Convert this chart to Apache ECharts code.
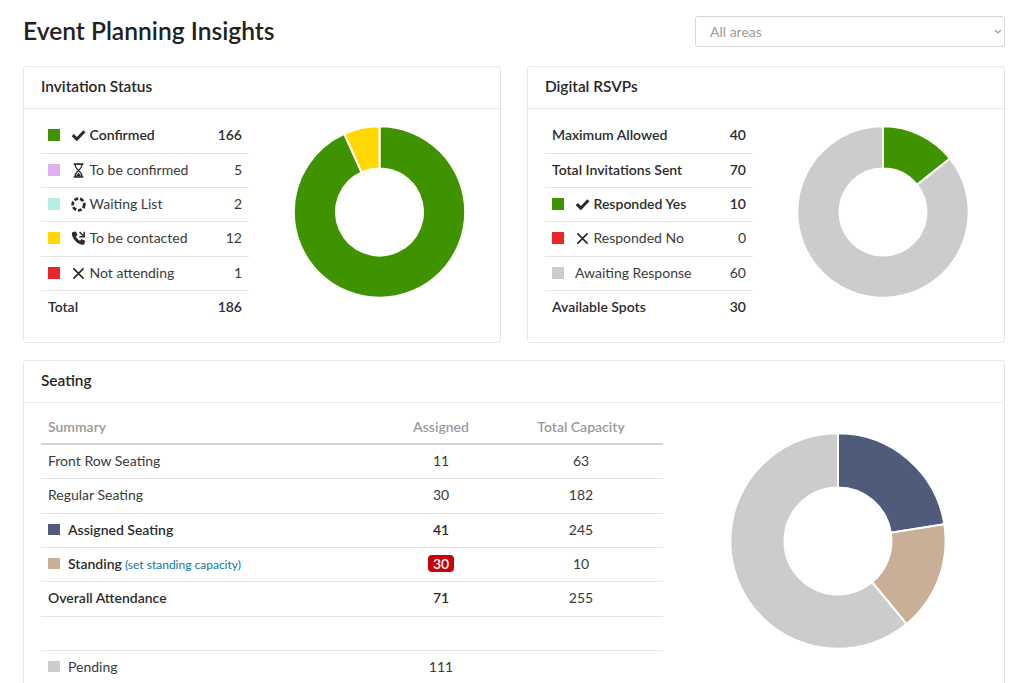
<!DOCTYPE html>
<html lang="en">
<head>
<meta charset="utf-8">
<title>Event Planning Insights</title>
<script src="https://cdn.jsdelivr.net/npm/echarts@6/dist/echarts.min.js"></script>
<style>
  html, body { margin: 0; padding: 0; background: #fff; }
  body { position: relative; width: 1024px; height: 683px; overflow: hidden;
         font-family: Lato, "Open Sans", sans-serif; color: #3a3a3a; font-size: 14px; }
  h1 { position: absolute; left: 23px; top: 15px; margin: 0; font-size: 24.6px; line-height: 32px;
       font-weight: 600; color: #222; white-space: nowrap; }
  .select { position: absolute; left: 695px; top: 16px; width: 308px; height: 29px;
            border: 1.5px solid #d5d7d9; border-radius: 3px; }
  .select span { position: absolute; left: 14px; top: 6px; color: #9a9a9a; font-size: 14px; line-height: 18px; }
  .select svg { position: absolute; right: 2px; top: 12px; }
  .card { position: absolute; box-sizing: border-box; border: 1.5px solid #e6e7e8; border-radius: 3px; background: #fff; }
  .card .head { position: absolute; left: 0; right: 0; top: 0; border-bottom: 1.5px solid #e9eaeb; box-sizing: border-box; }
  .card .head span { position: absolute; left: 17px; font-size: 15.4px; font-weight: 600; color: #262626; line-height: 20px; }
  .rule { position: absolute; height: 1px; background: #e2e3e4; }
  .swatch { position: absolute; width: 11.5px; height: 11.5px; }
  .strong { font-weight: 600; color: #2c2c2c; }
  .text { position: absolute; line-height: 18px; white-space: nowrap; }
  .num { position: absolute; line-height: 18px; text-align: right; }
  .mid { position: absolute; line-height: 18px; text-align: center; width: 80px; }
  .muted { color: #9a9a9a; font-weight: 600; }
  .link { color: #0e76a8; font-size: 12px; font-weight: 400; margin-left: 3px; }
  .badge { display: inline-block; background: #c8000a; color: #fff; font-weight: 600; border-radius: 4px;
           padding: 0 5px; line-height: 17px; font-size: 14px; }
  .icon { position: absolute; }
  #donuts { position: absolute; left: 0; top: 0; width: 1024px; height: 683px; }
</style>
</head>
<body>
<h1>Event Planning Insights</h1>
<div class="select"><span>All areas</span>
  <svg width="8" height="6" viewBox="0 0 8 6"><path d="M1 1l3 3 3-3" fill="none" stroke="#9a9a9a" stroke-width="1.2"/></svg>
</div>

<div class="card" style="left:23px;top:66px;width:478px;height:277px"><div class="head" style="height:42px"><span style="top:9px">Invitation Status</span></div></div>
<div class="card" style="left:527px;top:66px;width:478px;height:277px"><div class="head" style="height:42px"><span style="top:9px">Digital RSVPs</span></div></div>
<div class="card" style="left:23px;top:360px;width:982px;height:340px"><div class="head" style="height:42px"><span style="top:9px">Seating</span></div></div>

<div id="rows"></div>
<div id="donuts"></div>

<script>
// Invitation Status table
const invitationLabels = ['Confirmed', 'To be confirmed', 'Waiting List', 'To be contacted', 'Not attending', 'Total'];
const invitationValues = [166, 5, 2, 12, 1, 186];
const invitationColors = ['#3f9200', '#e0b0f0', '#b5eee5', '#ffd900', '#e8272c', null];
const invitationIcons = ['check', 'hourglass', 'spinner', 'phone', 'cross', null];
const invitationStrong = [true, false, false, false, false, true];

// Digital RSVPs table
const rsvpLabels = ['Maximum Allowed', 'Total Invitations Sent', 'Responded Yes', 'Responded No', 'Awaiting Response', 'Available Spots'];
const rsvpValues = [40, 70, 10, 0, 60, 30];
const rsvpColors = [null, null, '#3f9200', '#e8272c', '#cccccc', null];
const rsvpIcons = [null, null, 'check', 'cross', null, null];
const rsvpStrong = [true, true, true, false, false, true];

// Seating table
const seatingHeaders = ['Summary', 'Assigned', 'Total Capacity'];
const seatingLabels = ['Front Row Seating', 'Regular Seating', 'Assigned Seating', 'Standing', 'Overall Attendance', '', 'Pending'];
const seatingAssigned = [11, 30, 41, 30, 71, null, 111];
const seatingCapacity = [63, 182, 245, 10, 255, null, null];
const seatingColors = [null, null, '#4f5b78', '#c9ae98', null, null, '#cccccc'];
const seatingStrong = [false, false, true, true, true, false, false];

// Slices shown in each donut
const invitationSlices = ['Confirmed', 'To be contacted'];
const rsvpSlices = ['Responded Yes', 'Awaiting Response'];
const seatingSlices = ['Assigned Seating', 'Standing', 'Pending'];

const ICONS = {
  check: '<path d="M.6 7.600l2-2 2.900 2.800L11.500 2l2 2-8 8.400z" fill="#2b2b2b"/>',
  cross: '<path d="M2.300 2.300l9.400 9.400M11.700 2.300l-9.400 9.400" stroke="#2b2b2b" stroke-width="1.600" fill="none"/>',
  hourglass: '<path d="M2.500 1h9M2.500 13h9" stroke="#2b2b2b" stroke-width="1.500" fill="none"/><path d="M3.700 1c0 4 2.300 4.600 3.300 6 1-1.400 3.300-2 3.300-6M3.700 13c0-4 2.300-4.600 3.300-6 1 1.400 3.300 2 3.300 6" stroke="#2b2b2b" stroke-width="1.200" fill="none"/><path d="M4.300 12.500h5.400L7 8.800z" fill="#2b2b2b"/>',
  spinner: '<circle cx="7" cy="7" r="5.400" stroke="#2b2b2b" stroke-width="2.600" stroke-dasharray="3.500 1.740" fill="none"/>',
  phone: '<path d="M1.800.9l2.800-.4 1.500 3.300-1.600 1.400c.7 1.700 2.200 3.200 3.900 3.900l1.400-1.600 3.300 1.500-.5 2.900c-.2.800-1 1.200-1.900 1C5.800 12 1.500 7.600.8 3c-.1-.9.300-1.800 1-2.100z" fill="#2b2b2b"/><path d="M8 1l3.900 3.900M12.300.8v4.500H7.800" stroke="#2b2b2b" stroke-width="1.400" fill="none"/>'
};

const host = document.getElementById('rows');
function add(cls, css, html) {
  const el = document.createElement('div');
  el.className = cls;
  el.style.cssText = css;
  el.innerHTML = html;
  host.appendChild(el);
}
function icon(name, x, cy) {
  add('icon', `left:${x}px;top:${cy - 7.5}px;width:15px;height:15px`,
      `<svg width="15" height="15" viewBox="0 0 14 14">${ICONS[name]}</svg>`);
}
const sideCentres = [135, 170, 204, 238, 273, 307];
const sideRules = [153, 187, 221, 256, 290];

function sideTable(x0, labels, values, colors, icons, strong) {
  sideRules.forEach(y => add('rule', `left:${x0}px;top:${y}px;width:208px`, ''));
  labels.forEach((label, i) => {
    const cy = sideCentres[i];
    const weight = strong[i] ? ' strong' : '';
    if (colors[i]) add('swatch', `left:${x0 + 7}px;top:${cy - 6}px;background:${colors[i]}`, '');
    if (icons[i]) icon(icons[i], x0 + 30, cy);
    let left = x0 + 7;
    if (icons[i]) left = x0 + 48.500;
    else if (colors[i]) left = x0 + 30;
    add('text' + weight, `left:${left}px;top:${cy - 9}px`, label);
    add('num' + weight, `left:${x0 + 141}px;top:${cy - 9}px;width:60px`, values[i]);
  });
}
sideTable(41, invitationLabels, invitationValues, invitationColors, invitationIcons, invitationStrong);
sideTable(545, rsvpLabels, rsvpValues, rsvpColors, rsvpIcons, rsvpStrong);

// Seating table body
const seatCentres = [461, 495, 530, 564, 598, 632, 667];
const seatRules = [478, 513, 547, 581, 616, 650];
add('rule', 'left:41px;top:443px;width:622px;height:1.500px;background:#d4d5d6', '');
seatRules.forEach(y => add('rule', `left:41px;top:${y}px;width:622px;height:1.200px`, ''));
add('text muted', 'left:48px;top:418px', seatingHeaders[0]);
add('mid muted', 'left:401px;top:418px', seatingHeaders[1]);
add('mid muted', 'left:531px;top:418px;width:100px', seatingHeaders[2]);
seatingLabels.forEach((label, i) => {
  const cy = seatCentres[i];
  const weight = seatingStrong[i] ? ' strong' : '';
  if (seatingColors[i]) add('swatch', `left:48px;top:${cy - 6.5}px;background:${seatingColors[i]}`, '');
  const extra = label === 'Standing' ? '<span class="link">(set standing capacity)</span>' : '';
  if (label) add('text' + weight, `left:${seatingColors[i] ? 68 : 48}px;top:${cy - 9}px`, label + extra);
  if (seatingAssigned[i] !== null) {
    const over = seatingCapacity[i] !== null && seatingAssigned[i] > seatingCapacity[i];
    const body = over ? `<span class="badge">${seatingAssigned[i]}</span>` : seatingAssigned[i];
    add('mid' + weight, `left:401px;top:${cy - 9}px`, body);
  }
  if (seatingCapacity[i] !== null) add('mid', `left:541px;top:${cy - 9}px`, seatingCapacity[i]);
});

// Donuts are fed from the same table arrays
function slices(names, labels, values, colors) {
  return names.map(name => {
    const i = labels.indexOf(name);
    return { name, value: values[i], itemStyle: { color: colors[i] } };
  });
}
function donut(center, radius, data) {
  return {
    type: 'pie', center, radius, data, startAngle: 90, clockwise: true,
    label: { show: false }, labelLine: { show: false }, silent: true,
    itemStyle: { borderColor: '#fff', borderWidth: 2 }
  };
}
const chart = echarts.init(document.getElementById('donuts'), null, { renderer: 'canvas' });
chart.setOption({
  animation: false,
  series: [
    donut([379.500, 212], [43.500, 85.700], slices(invitationSlices, invitationLabels, invitationValues, invitationColors)),
    donut([883, 212], [43.500, 85.700], slices(rsvpSlices, rsvpLabels, rsvpValues, rsvpColors)),
    donut([838, 541], [53.500, 107.700], slices(seatingSlices, seatingLabels, seatingAssigned, seatingColors))
  ]
});
</script>
</body>
</html>
